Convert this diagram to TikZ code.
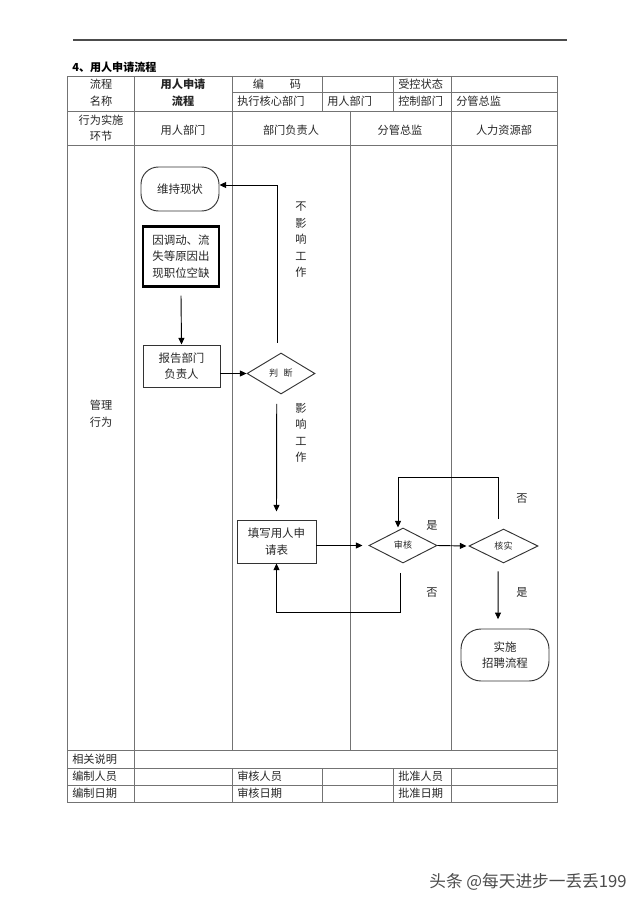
\documentclass[tikz,border=0pt]{standalone}
\usepackage{fontspec}
\setmainfont{Noto Sans CJK SC}
\usetikzlibrary{shapes.geometric,arrows.meta}
\begin{document}
\begin{tikzpicture}[x=0.75pt,y=-0.75pt,
  tline/.style={draw=black!55, line width=0.6pt},
  txt/.style={font=\fontsize{8.4}{12.4}\selectfont, text=black!85, inner sep=0pt, align=center},
  ftxt/.style={font=\fontsize{8.6}{12.4}\selectfont, text=black!85, align=center},
  flowline/.style={draw=black, line width=0.7pt},
  arr/.style={flowline, -{Triangle[length=5pt,width=4.5pt]}},
  stepbox/.style={draw=black!80, line width=0.7pt, inner sep=1pt, ftxt},
  roundbox/.style={stepbox, rounded corners=13pt},
  dia/.style={diamond, draw=black!80, line width=0.7pt, inner sep=0pt, font=\fontsize{6.8}{8}\selectfont, text=black!85},
  lbl/.style={font=\fontsize{8.4}{12.4}\selectfont, text=black!85, inner sep=0pt, align=center}
]
\useasboundingbox (0,0) rectangle (640,905);

% top rule and title
\draw[black!70, line width=1.1pt] (73,40) -- (567,40);
\node[anchor=west, inner sep=0pt, font=\fontsize{8.3}{10}\selectfont\bfseries] (title) at (72,67) {4、用人申请流程};

% table lines
\draw[tline] (67,76) rectangle (557,802);
\draw[tline] (232,92) -- (557,92);
\draw[tline] (67,111) -- (557,111);
\draw[tline] (67,145) -- (557,145);
\draw[tline] (67,750) -- (557,750);
\draw[tline] (67,768) -- (557,768);
\draw[tline] (67,785) -- (557,785);
\draw[tline] (134,76) -- (134,802);
\draw[tline] (232,76) -- (232,750);
\draw[tline] (232,768) -- (232,802);
\draw[tline] (322,76) -- (322,111);
\draw[tline] (322,768) -- (322,802);
\draw[tline] (393,76) -- (393,111);
\draw[tline] (393,768) -- (393,802);
\draw[tline] (451,76) -- (451,750);
\draw[tline] (451,768) -- (451,802);
\draw[tline] (350,111) -- (350,750);

% header texts
\node[txt] (h1) at (101,93) {流程\\名称};
\node[txt, font=\fontsize{8.4}{12.4}\selectfont\bfseries] (h2) at (183,93) {用人申请\\流程};
\node[txt] (h3) at (277,84) {编\hspace{2.3em}码};
\node[txt, anchor=west] (h4) at (398,84) {受控状态};
\node[txt, anchor=west] (h5) at (237,101.5) {执行核心部门};
\node[txt, anchor=west] (h6) at (327,101.5) {用人部门};
\node[txt, anchor=west] (h7) at (398,101.5) {控制部门};
\node[txt, anchor=west] (h8) at (456,101.5) {分管总监};
\node[txt] (r1) at (101,128) {行为实施\\环节};
\node[txt] (r2) at (183,130) {用人部门};
\node[txt] (r3) at (291,130) {部门负责人};
\node[txt] (r4) at (400,130) {分管总监};
\node[txt] (r5) at (504,130) {人力资源部};
\node[txt] (body) at (101,414) {管理\\行为};

% bottom rows
\node[txt, anchor=west] (b1) at (72,759) {相关说明};
\node[txt, anchor=west] (b2) at (72,776.5) {编制人员};
\node[txt, anchor=west] (b3) at (237,776.5) {审核人员};
\node[txt, anchor=west] (b4) at (398,776.5) {批准人员};
\node[txt, anchor=west] (b5) at (72,793.5) {编制日期};
\node[txt, anchor=west] (b6) at (237,793.5) {审核日期};
\node[txt, anchor=west] (b7) at (398,793.5) {批准日期};

% flow nodes
\node[roundbox, minimum width=58.5pt, minimum height=33pt] (keep) at (180,189) {维持现状};
\node[stepbox, line width=2.2pt, draw=black, minimum width=57pt, minimum height=44.5pt] (start) at (181,256.5) {因调动、流\\失等原因出\\现职位空缺};
\node[stepbox, minimum width=57.75pt, minimum height=31.5pt] (report) at (181.5,366) {报告部门\\负责人};
\node[dia, minimum width=51pt, minimum height=30.75pt] (judge) at (281,373.5) {判\hspace{0.6em}断};
\node[stepbox, minimum width=59.25pt, minimum height=32.25pt] (form) at (276.5,541.5) {填写用人申\\请表};
\node[dia, minimum width=51pt, minimum height=26.25pt] (review) at (403,545.5) {审核};
\node[dia, minimum width=51.75pt, minimum height=25.5pt] (verify) at (503.5,546) {核实};
\node[roundbox, rounded corners=15pt, minimum width=66pt, minimum height=39pt] (impl) at (505,655) {实施\\招聘流程};

% connectors
\draw[arr] ([yshift=-6pt]start.south) -- (report.north);
\draw[arr] (report.east |- judge.west) -- (judge.west);
\draw[arr] ([xshift=-3pt,yshift=7.5pt]judge.north) |- ([yshift=3pt]keep.east);
\draw[arr] ([xshift=-3.2pt,yshift=-7pt]judge.south) -- ([yshift=6pt]form.north);
\draw[arr] (form.east |- review.west) -- ([xshift=-4.5pt]review.west);
\draw[arr] (review.east) -- ([xshift=-1.5pt]verify.west);
\draw[arr] ([xshift=-3.5pt,yshift=7pt]verify.north) -- ++(0,31.5pt) -| ([xshift=-3.75pt]review.north);
\draw[arr] ([xshift=-2.25pt,yshift=-7pt]review.south) -- ++(0,-30pt) -| (form.south);
\draw[arr] ([xshift=-4pt,yshift=-6pt]verify.south) -- ([xshift=-5.25pt,yshift=7pt]impl.north);

% labels
\node[lbl] (l1) at (301,240) {不\\影\\响\\工\\作};
\node[lbl] (l2) at (301,433) {影\\响\\工\\作};
\node[lbl] (l3) at (432,525) {是};
\node[lbl] (l4) at (522,499) {否};
\node[lbl] (l5) at (432,593) {否};
\node[lbl] (l6) at (522,592) {是};

% watermark
\node[inner sep=0pt, font=\fontsize{12.5}{14}\selectfont, text=black!70] (wm) at (528,882) {头条 @每天进步一丢丢199};
\end{tikzpicture}
\end{document}
